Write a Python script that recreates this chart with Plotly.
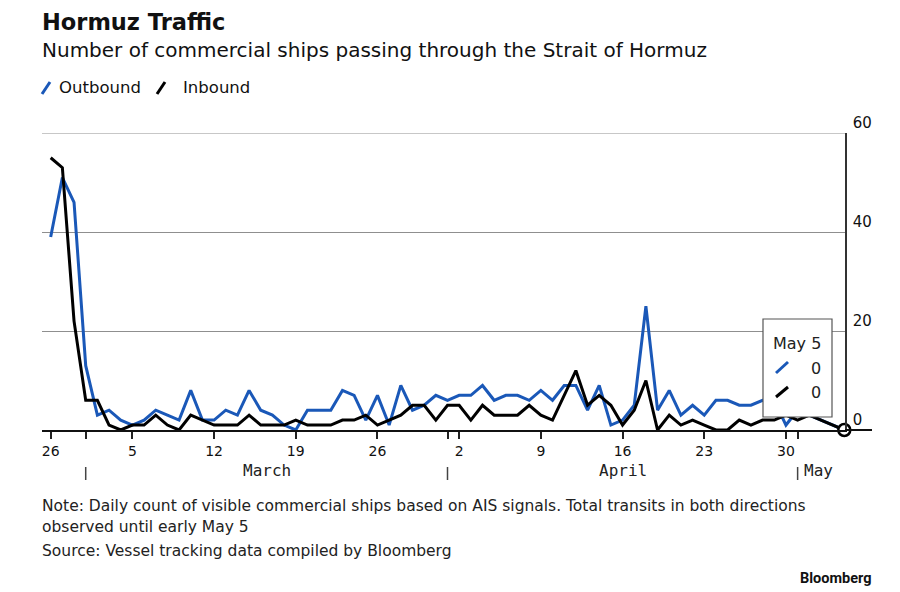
import pandas as pd
import plotly.graph_objects as go

# ---------------- data ----------------
dates = pd.date_range("2026-02-26", "2026-05-05", freq="D")

outbound = [39, 51, 46, 13, 3, 4, 2, 1, 2, 4,
            3, 2, 8, 2, 2, 4, 3, 8, 4, 3,
            1, 0, 4, 4, 4, 8, 7, 2, 7, 1,
            9, 4, 5, 7, 6, 7, 7, 9, 6, 7,
            7, 6, 8, 6, 9, 9, 4, 9, 1, 2,
            5, 25, 4, 8, 3, 5, 3, 6, 6, 5,
            5, 6, 6, 1, 4, 3, 2, 1, 0]

inbound = [55, 53, 22, 6, 6, 1, 0, 1, 1, 3,
           1, 0, 3, 2, 1, 1, 1, 3, 1, 1,
           1, 2, 1, 1, 1, 2, 2, 3, 1, 2,
           3, 5, 5, 2, 5, 5, 2, 5, 3, 3,
           3, 5, 3, 2, 7, 12, 5, 7, 5, 1,
           4, 10, 0, 3, 1, 2, 1, 0, 0, 2,
           1, 2, 2, 3, 2, 3, 2, 1, 0]

series_names = ["Outbound", "Inbound"]
y_ticks = [0, 20, 40, 60]
month_labels = ["March", "April", "May"]

title = "Hormuz Traffic"
subtitle = "Number of commercial ships passing through the Strait of Hormuz"
note1 = "Note: Daily count of visible commercial ships based on AIS signals. Total transits in both directions"
note2 = "observed until early May 5"
source = "Source: Vessel tracking data compiled by Bloomberg"
hover_label = "May 5"

# ---------------- styling ----------------
BLUE = "#1a58b8"
BLACK = "#000000"
FONT = "DejaVu Sans"
MONO = "DejaVu Sans Mono"

W_PX, H_PX = 900, 592
L, R, T, B = 42, 845, 133, 430
PW, PH = R - L, B - T


def px(x):
    return (x - L) / PW


def py(y):
    return (B - y) / PH


fig = go.Figure()
fig.add_trace(go.Scatter(x=dates, y=outbound, mode="lines", name=series_names[0],
                         line=dict(color=BLUE, width=3), showlegend=False))
fig.add_trace(go.Scatter(x=dates, y=inbound, mode="lines", name=series_names[1],
                         line=dict(color=BLACK, width=3), showlegend=False))
fig.add_trace(go.Scatter(x=[dates[-1]], y=[inbound[-1]], mode="markers",
                         marker=dict(size=12, color="white", line=dict(color=BLACK, width=2.5)),
                         cliponaxis=False, showlegend=False))

# ticks: weekly + month starts
weekly = list(dates[::7])
month_starts = [d for d in dates if d.day == 1]
tickvals = weekly + month_starts
ticktext = [str(d.day) for d in weekly] + ["" for _ in month_starts]

day = pd.Timedelta(days=1)
x_start = dates[0] - 0.745 * day
x_end = dates[0] + 68.06 * day

fig.update_xaxes(range=[x_start, x_end], tickvals=tickvals, ticktext=ticktext,
                 ticks="outside", ticklen=7, tickwidth=1.5, tickcolor="#222",
                 showline=True, linecolor="#111", linewidth=2,
                 showgrid=False, zeroline=False,
                 tickfont=dict(family=FONT, size=14, color="#111"))
fig.update_yaxes(range=[0, 60], tickvals=y_ticks, side="right",
                 ticklabelposition="outside top", ticklabelstandoff=3,
                 showline=True, linecolor="#333", linewidth=1.5,
                 showgrid=True, gridcolor="#8f8f8f", gridwidth=1,
                 zeroline=False, ticks="",
                 tickfont=dict(family=FONT, size=15, color="#111"))

shapes = []
annotations = []

# top gridline (at the edge of the range)
shapes.append(dict(type="line", xref="paper", yref="y", x0=0, x1=1, y0=y_ticks[-1], y1=y_ticks[-1],
                   line=dict(color="#8f8f8f", width=1), layer="below"))

# x-axis line extension past the right axis
shapes.append(dict(type="line", xref="paper", yref="paper", x0=1, x1=px(872), y0=0, y1=0,
                   line=dict(color="#111", width=2)))

# month separators and labels
for d in month_starts:
    shapes.append(dict(type="line", xref="x", yref="paper", x0=d, x1=d,
                       y0=py(467), y1=py(480), line=dict(color="#444", width=1.5)))
mid_march = month_starts[0] + (month_starts[1] - month_starts[0]) / 2
mid_april = month_starts[1] + (month_starts[2] - month_starts[1]) / 2
annotations.append(dict(x=mid_march, y=py(470), xref="x", yref="paper", text=month_labels[0],
                        showarrow=False, xanchor="center", yanchor="middle",
                        font=dict(family=MONO, size=16, color="#222")))
annotations.append(dict(x=mid_april, y=py(470), xref="x", yref="paper", text=month_labels[1],
                        showarrow=False, xanchor="center", yanchor="middle",
                        font=dict(family=MONO, size=16, color="#222")))
annotations.append(dict(x=month_starts[2], y=py(470), xref="x", yref="paper", text=month_labels[2],
                        showarrow=False, xanchor="left", yanchor="middle", xshift=4,
                        font=dict(family=MONO, size=16, color="#222")))

# title, subtitle
annotations.append(dict(x=px(40), y=py(22), xref="paper", yref="paper", text="<b>" + title + "</b>",
                        showarrow=False, xanchor="left", yanchor="middle",
                        font=dict(family=FONT, size=22.5, color="#111")))
annotations.append(dict(x=px(40), y=py(50), xref="paper", yref="paper", text=subtitle,
                        showarrow=False, xanchor="left", yanchor="middle",
                        font=dict(family=FONT, size=20, color="#111")))

# legend
shapes.append(dict(type="line", xref="paper", yref="paper", x0=px(42), x1=px(50), y0=py(94), y1=py(82),
                   line=dict(color=BLUE, width=3)))
annotations.append(dict(x=px(57), y=py(88), xref="paper", yref="paper", text=series_names[0],
                        showarrow=False, xanchor="left", yanchor="middle",
                        font=dict(family=FONT, size=16.5, color="#111")))
shapes.append(dict(type="line", xref="paper", yref="paper", x0=px(157), x1=px(165), y0=py(94), y1=py(82),
                   line=dict(color=BLACK, width=3)))
annotations.append(dict(x=px(181), y=py(88), xref="paper", yref="paper", text=series_names[1],
                        showarrow=False, xanchor="left", yanchor="middle",
                        font=dict(family=FONT, size=16.5, color="#111")))

# hover-like box
shapes.append(dict(type="rect", xref="paper", yref="paper", x0=px(763), x1=px(832), y0=py(417), y1=py(319),
                   fillcolor="white", line=dict(color="#555", width=1.2), layer="above"))
annotations.append(dict(x=px(797), y=py(343), xref="paper", yref="paper", text=hover_label,
                        showarrow=False, xanchor="center", yanchor="middle",
                        font=dict(family=FONT, size=16, color="#222")))
shapes.append(dict(type="line", xref="paper", yref="paper", x0=px(776), x1=px(788), y0=py(373), y1=py(362),
                   line=dict(color=BLUE, width=3), layer="above"))
shapes.append(dict(type="line", xref="paper", yref="paper", x0=px(776), x1=px(788), y0=py(397), y1=py(387),
                   line=dict(color=BLACK, width=3), layer="above"))
annotations.append(dict(x=px(816), y=py(368), xref="paper", yref="paper", text=str(outbound[-1]),
                        showarrow=False, xanchor="center", yanchor="middle",
                        font=dict(family=FONT, size=16, color="#222")))
annotations.append(dict(x=px(816), y=py(392), xref="paper", yref="paper", text=str(inbound[-1]),
                        showarrow=False, xanchor="center", yanchor="middle",
                        font=dict(family=FONT, size=16, color="#222")))

# notes
for txt, yy in [(note1, 506), (note2, 527), (source, 551)]:
    annotations.append(dict(x=px(40), y=py(yy), xref="paper", yref="paper", text=txt,
                            showarrow=False, xanchor="left", yanchor="middle",
                            font=dict(family=FONT, size=15.5, color="#222")))

annotations.append(dict(x=px(873), y=py(578), xref="paper", yref="paper", text="<b>Bloomberg</b>",
                        showarrow=False, xanchor="right", yanchor="middle",
                        font=dict(family="Roboto", size=14.5, color="#111")))

fig.update_layout(width=W_PX, height=H_PX,
                  margin=dict(l=L, r=W_PX - R, t=T, b=H_PX - B, autoexpand=False),
                  paper_bgcolor="white", plot_bgcolor="white",
                  shapes=shapes, annotations=annotations, showlegend=False)

fig.write_html("out.html")
